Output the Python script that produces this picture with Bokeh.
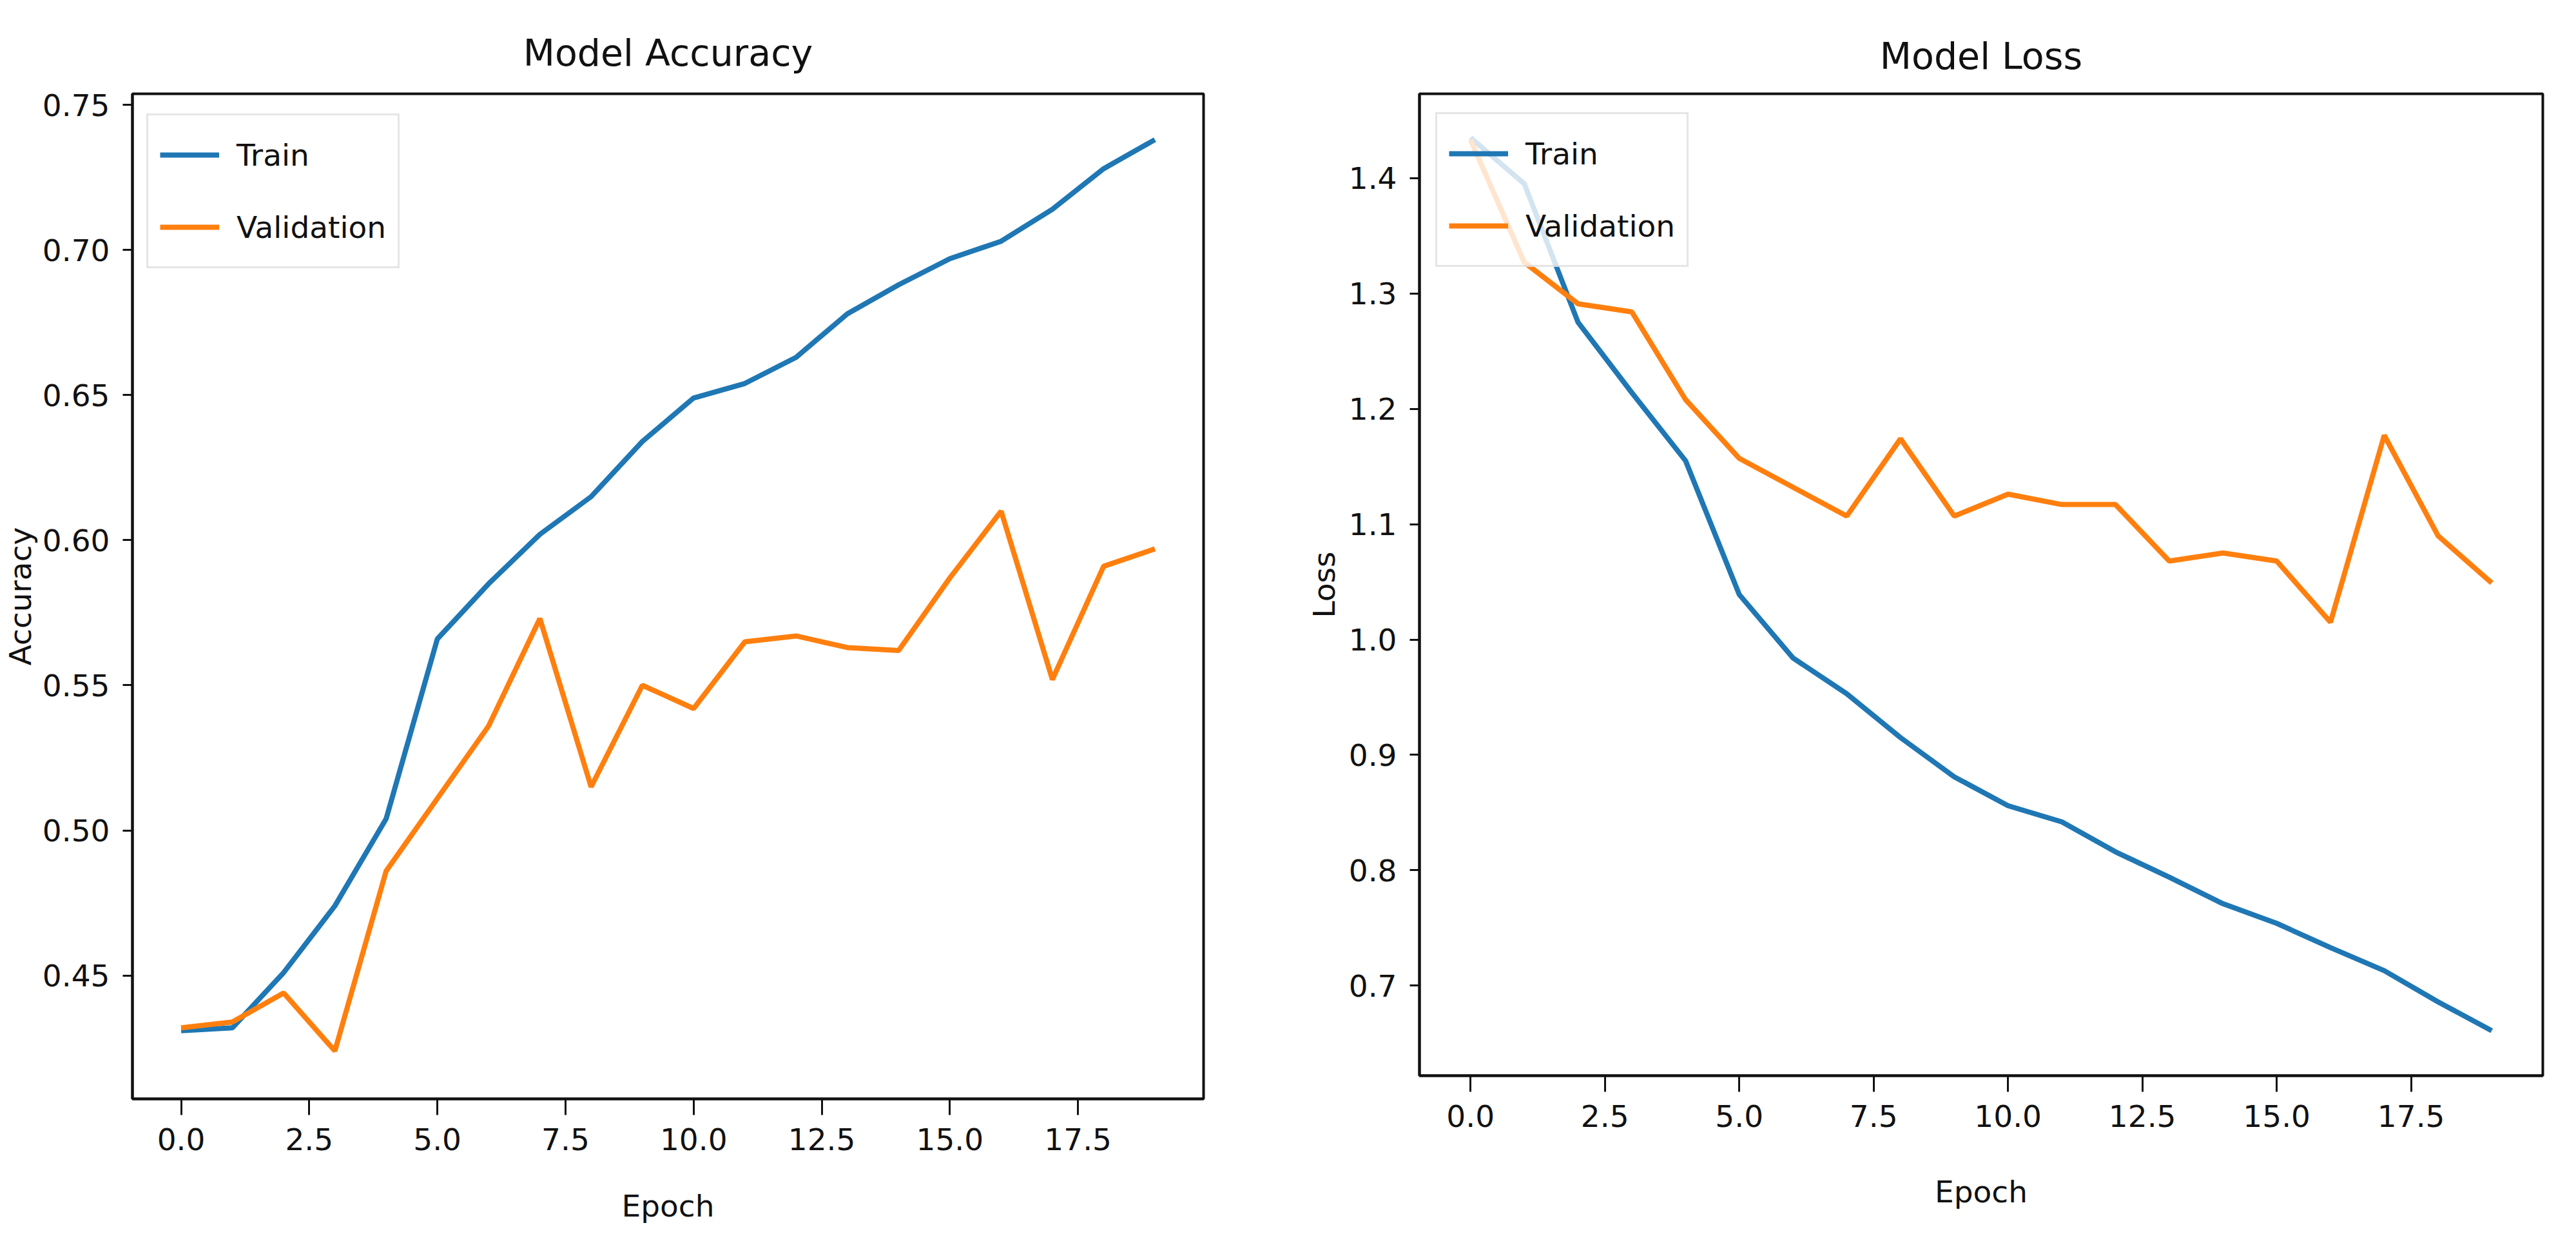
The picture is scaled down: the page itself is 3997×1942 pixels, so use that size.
from bokeh.plotting import figure
from bokeh.layouts import row
from bokeh.models import Range1d, FixedTicker, PrintfTickFormatter
from bokeh.embed import file_html
from bokeh.resources import INLINE

epochs = list(range(20))
acc_train = [0.431, 0.432, 0.451, 0.474, 0.504, 0.566, 0.585, 0.602, 0.615, 0.634,
             0.649, 0.654, 0.663, 0.678, 0.688, 0.697, 0.703, 0.714, 0.728, 0.738]
acc_val = [0.432, 0.434, 0.444, 0.424, 0.486, 0.511, 0.536, 0.573, 0.515, 0.550,
           0.542, 0.565, 0.567, 0.563, 0.562, 0.587, 0.610, 0.552, 0.591, 0.597]
loss_train = [1.435, 1.395, 1.275, 1.214, 1.155, 1.039, 0.984, 0.953, 0.915, 0.881,
              0.856, 0.842, 0.816, 0.794, 0.771, 0.754, 0.733, 0.713, 0.686, 0.661]
loss_val = [1.433, 1.327, 1.291, 1.284, 1.208, 1.157, 1.132, 1.107, 1.174, 1.107,
            1.126, 1.117, 1.117, 1.068, 1.075, 1.068, 1.015, 1.177, 1.090, 1.049]
x_ticks = [0.0, 2.5, 5.0, 7.5, 10.0, 12.5, 15.0, 17.5]
acc_ticks = [0.45, 0.50, 0.55, 0.60, 0.65, 0.70, 0.75]
loss_ticks = [0.7, 0.8, 0.9, 1.0, 1.1, 1.2, 1.3, 1.4]

BLUE = "#1f77b4"
ORANGE = "#ff7f0e"
FONT = "DejaVu Sans"
TICK_FS = "47px"
LABEL_FS = "47px"
TITLE_FS = "57px"
LEG_H = 234


def make_plot(title, ylabel, train, val, yr, yticks, yfmt, fw, fh,
              bl, br, bt, bb, legend_off, ylab_standoff, title_standoff, xlab_standoff):
    p = figure(frame_width=fw, frame_height=fh, output_backend="svg", toolbar_location=None,
               x_range=Range1d(-0.95, 19.95), y_range=Range1d(*yr),
               min_border_left=bl, min_border_right=br, min_border_top=bt,
               min_border_bottom=bb, title=title)
    p.line(epochs, train, line_color=BLUE, line_width=8, legend_label="Train")
    p.line(epochs, val, line_color=ORANGE, line_width=8, legend_label="Validation")

    p.title.align = "center"
    p.title.text_font = FONT
    p.title.text_font_size = TITLE_FS
    p.title.text_font_style = "normal"
    p.title.text_color = "#111111"
    p.title.standoff = title_standoff

    p.grid.visible = False
    p.outline_line_color = "#111111"
    p.outline_line_width = 4
    p.outline_line_alpha = 1.0
    p.background_fill_color = "white"
    p.border_fill_color = "white"

    for ax in (p.xaxis[0], p.yaxis[0]):
        ax.axis_line_color = "#111111"
        ax.axis_line_width = 4
        ax.major_tick_line_color = "#111111"
        ax.major_tick_line_width = 3
        ax.major_tick_in = 0
        ax.minor_tick_line_color = None
        ax.major_label_text_font = FONT
        ax.major_label_text_font_size = TICK_FS
        ax.major_label_text_color = "#111111"
        ax.axis_label_text_font = FONT
        ax.axis_label_text_font_size = LABEL_FS
        ax.axis_label_text_font_style = "normal"
        ax.axis_label_text_color = "#111111"

    p.xaxis.ticker = FixedTicker(ticks=x_ticks)
    p.xaxis.formatter = PrintfTickFormatter(format="%.1f")
    p.xaxis.major_tick_out = 25
    p.xaxis.major_label_standoff = 20
    p.xaxis.axis_label = "Epoch"
    p.xaxis.axis_label_standoff = xlab_standoff

    p.yaxis.ticker = FixedTicker(ticks=yticks)
    p.yaxis.formatter = PrintfTickFormatter(format=yfmt)
    p.yaxis.major_tick_out = 15
    p.yaxis.major_label_standoff = 20
    p.yaxis.axis_label = ylabel
    p.yaxis.axis_label_standoff = ylab_standoff

    lg = p.legend[0]
    lg.location = (legend_off[0], fh - legend_off[1] - LEG_H)
    lg.label_text_font = FONT
    lg.label_text_font_size = TICK_FS
    lg.label_text_color = "#111111"
    lg.glyph_width = 92
    lg.glyph_height = 86
    lg.label_height = 86
    lg.label_standoff = 27
    lg.padding = 18
    lg.spacing = 26
    lg.margin = 0
    lg.border_line_color = "#cccccc"
    lg.border_line_width = 3
    lg.background_fill_color = "white"
    lg.background_fill_alpha = 0.8
    return p


p1 = make_plot("Model Accuracy", "Accuracy", acc_train, acc_val, (0.4075, 0.7538),
               acc_ticks, "%.2f", 1662, 1559, 192, 138, 126, 235, (22, 37), 4, 62, 56)
p2 = make_plot("Model Loss", "Loss", loss_train, loss_val, (0.622, 1.473),
               loss_ticks, "%.1f", 1743, 1523, 197, 49, 145, 252, (25, 35), 8, 52, 70)

layout = row(p1, p2, spacing=0)
open("out.html", "w").write(file_html(layout, INLINE))
